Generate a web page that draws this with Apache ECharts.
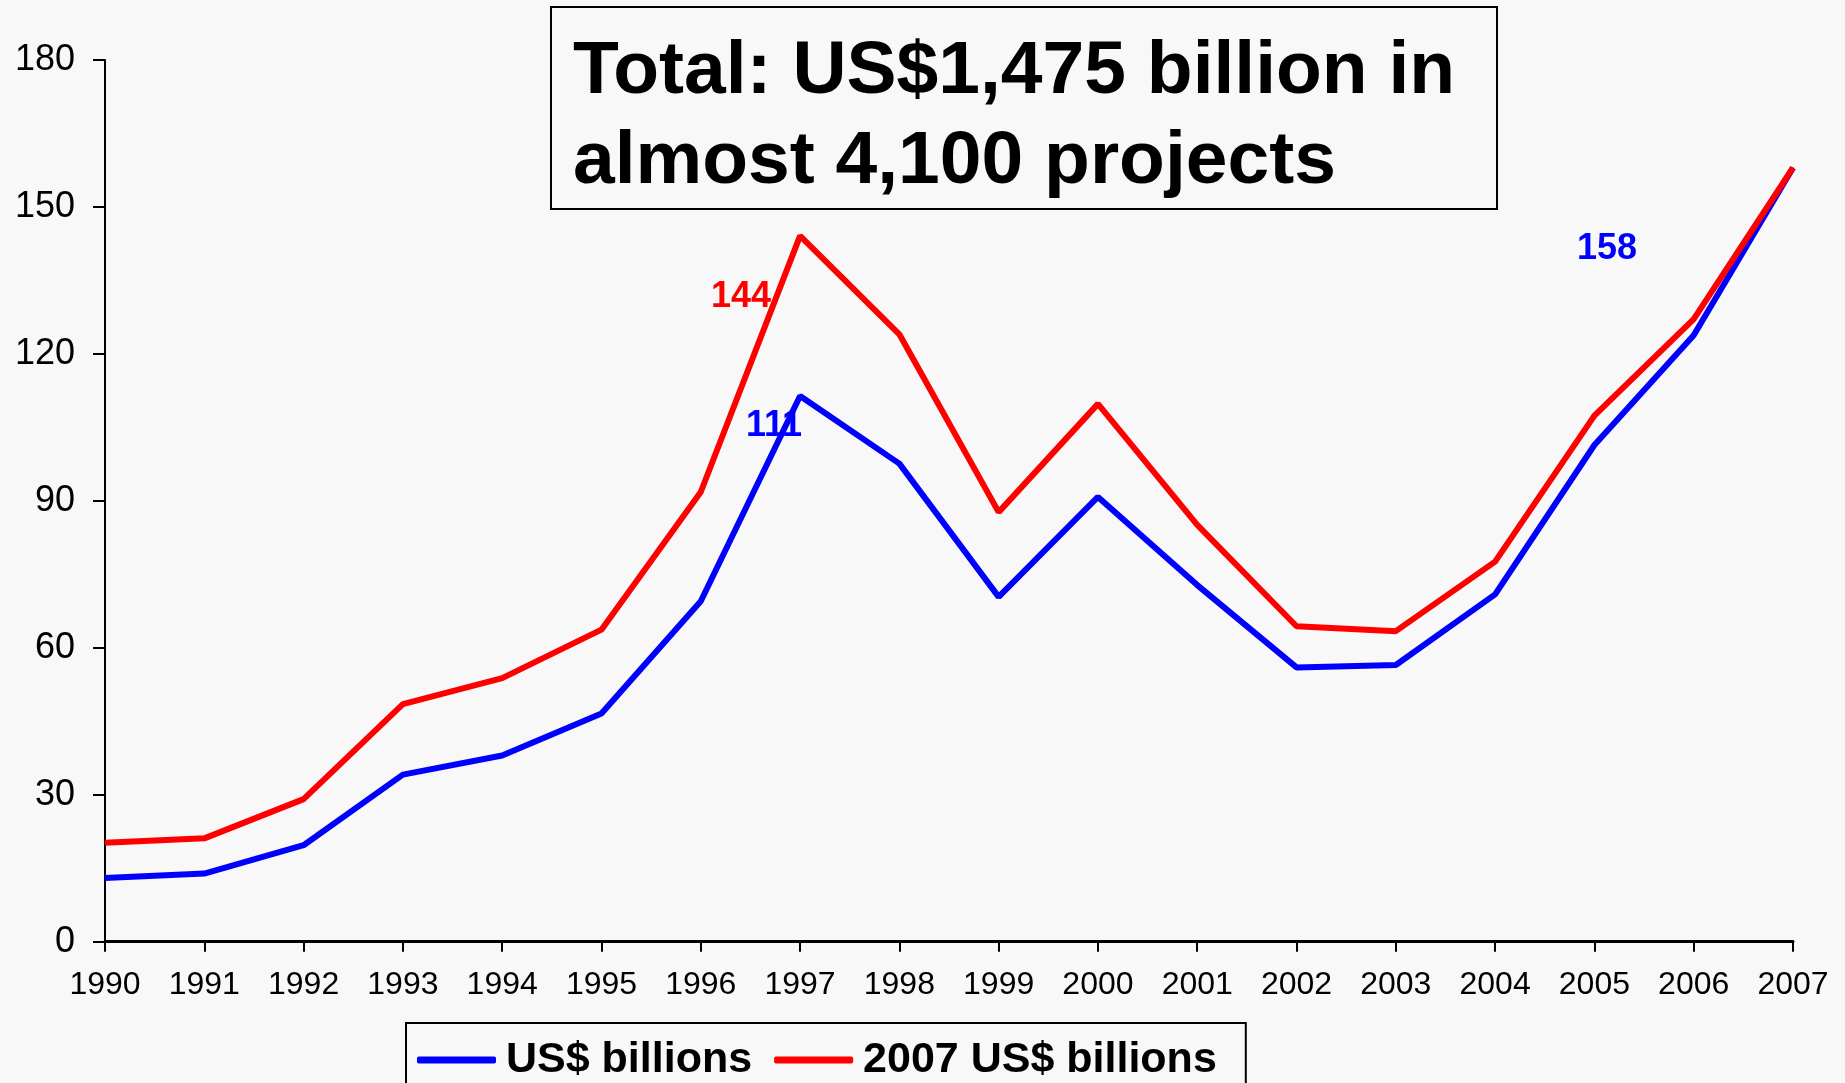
<!DOCTYPE html>
<html>
<head>
<meta charset="utf-8">
<script src="https://cdn.jsdelivr.net/npm/echarts@6/dist/echarts.min.js"></script>
<style>
html,body{margin:0;padding:0;background:#f8f8f8;}
#c{width:1845px;height:1083px;}
</style>
</head>
<body>
<div id="c"></div>
<script>
const years = ['1990','1991','1992','1993','1994','1995','1996','1997','1998','1999','2000','2001','2002','2003','2004','2005','2006','2007'];
const usdBillions = [13.0, 13.9, 19.7, 34.1, 38.0, 46.6, 69.5, 111.4, 97.6, 70.4, 90.8, 72.8, 56.0, 56.5, 70.9, 101.4, 123.8, 158.0];
const usd2007Billions = [20.2, 21.1, 29.1, 48.5, 53.8, 63.7, 91.8, 144.1, 124.0, 87.7, 109.8, 85.1, 64.4, 63.4, 77.6, 107.4, 127.1, 158.0];
const yTicks = {min: 0, max: 180, interval: 30};
const titleText = 'Total: US$1,475 billion in\nalmost 4,100 projects';
const seriesNames = ['US$ billions', '2007 US$ billions'];
// annotated points: data index -> label offset
const blueLabels = {7: [-26, 30], 17: [-186, 81]};
const redLabels = {7: [-59, 61]};

const FONT = 'Liberation Sans, Arial, sans-serif';

function buildData(values, labels, color) {
  return values.map((v, i) => {
    if (labels[i]) {
      return {
        value: v,
        label: {
          show: true,
          position: 'inside',
          offset: labels[i],
          formatter: p => String(Math.round(p.value)),
          color: color,
          fontSize: 36,
          fontWeight: 'bold',
          fontFamily: FONT
        }
      };
    }
    return v;
  });
}

const chart = echarts.init(document.getElementById('c'), null, {renderer: 'canvas'});
chart.setOption({
  backgroundColor: '#f8f8f8',
  animation: false,
  textStyle: {fontFamily: FONT},
  title: {
    text: titleText,
    left: 551,
    top: 7,
    padding: [20, 42, 2, 22],
    borderColor: '#000',
    borderWidth: 2,
    textStyle: {
      fontSize: 75,
      fontWeight: 'bold',
      color: '#000',
      lineHeight: 90,
      fontFamily: FONT
    }
  },
  legend: {
    left: 406,
    top: 1023,
    padding: [12, 29, 40, 11],
    borderColor: '#000',
    borderWidth: 2,
    itemWidth: 79,
    itemHeight: 7,
    itemGap: 22,
    icon: 'roundRect',
    data: seriesNames,
    textStyle: {
      fontSize: 43,
      fontWeight: 'bold',
      color: '#000',
      lineHeight: 50,
      padding: [0, 0, 0, 5],
      fontFamily: FONT
    }
  },
  grid: {left: 105, right: 52, top: 60, bottom: 141.3, containLabel: false},
  xAxis: {
    type: 'category',
    data: years,
    boundaryGap: false,
    axisLine: {show: true, lineStyle: {color: '#000', width: 3}},
    axisTick: {show: true, length: 10, lineStyle: {color: '#000', width: 2}},
    axisLabel: {color: '#000', fontSize: 32, margin: 27, fontFamily: FONT, interval: 0},
    splitLine: {show: false}
  },
  yAxis: {
    type: 'value',
    min: yTicks.min,
    max: yTicks.max,
    interval: yTicks.interval,
    axisLine: {show: true, lineStyle: {color: '#000', width: 2}},
    axisTick: {show: true, length: 12, lineStyle: {color: '#000', width: 2}},
    axisLabel: {color: '#000', fontSize: 36, margin: 30, fontFamily: FONT},
    splitLine: {show: false}
  },
  series: [
    {
      name: seriesNames[0],
      type: 'line',
      data: buildData(usdBillions, blueLabels, '#0000ff'),
      showSymbol: true,
      symbol: 'circle',
      symbolSize: 1,
      itemStyle: {color: '#0000ff'},
      lineStyle: {color: '#0000ff', width: 6},
      z: 2,
      emphasis: {disabled: true}
    },
    {
      name: seriesNames[1],
      type: 'line',
      data: buildData(usd2007Billions, redLabels, '#ff0000'),
      showSymbol: true,
      symbol: 'circle',
      symbolSize: 1,
      itemStyle: {color: '#ff0000'},
      lineStyle: {color: '#ff0000', width: 6},
      z: 3,
      emphasis: {disabled: true}
    }
  ]
});
</script>
</body>
</html>
